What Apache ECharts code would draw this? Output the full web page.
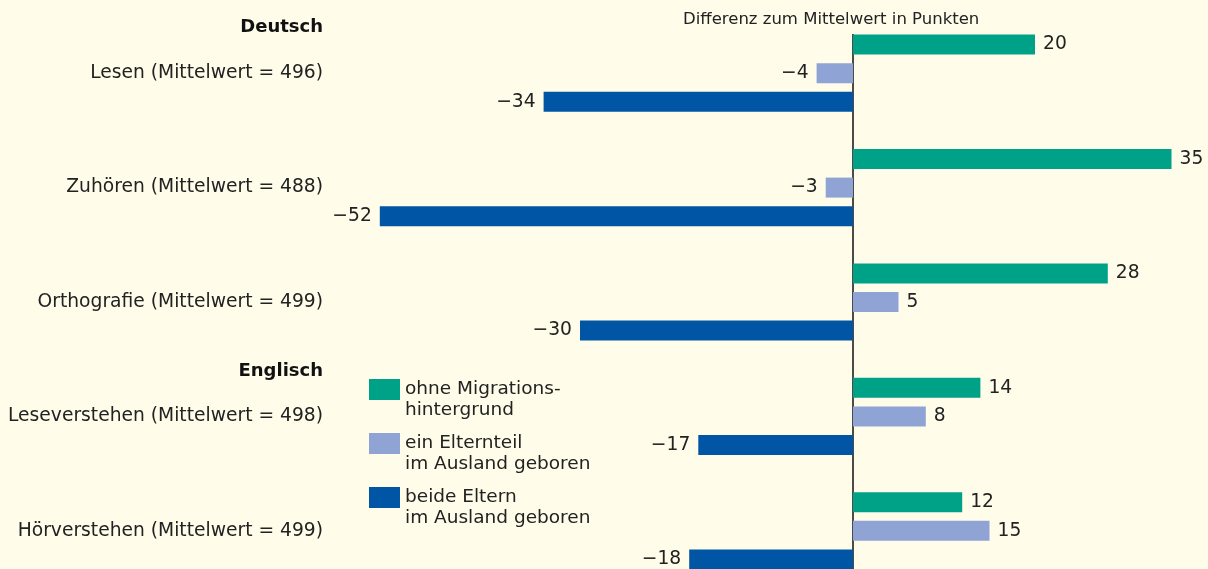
<!DOCTYPE html>
<html>
<head>
<meta charset="utf-8">
<script src="https://cdn.jsdelivr.net/npm/echarts@6/dist/echarts.min.js"></script>
<style>
  html, body { margin: 0; padding: 0; background: #fffcea; }
  #chart { width: 1208px; height: 569px; }
</style>
</head>
<body>
<div id="chart"></div>
<script>
// Kategorien (von oben nach unten)
const categories = [
    'Lesen (Mittelwert = 496)',
    'Zuhören (Mittelwert = 488)',
    'Orthografie (Mittelwert = 499)',
    'Leseverstehen (Mittelwert = 498)',
    'Hörverstehen (Mittelwert = 499)'
];
const seriesNames = [
    'ohne Migrations-\nhintergrund',
    'ein Elternteil\nim Ausland geboren',
    'beide Eltern\nim Ausland geboren'
];
// Differenz zum Mittelwert in Punkten
const ohneMigration = [20, 35, 28, 14, 12];
const einElternteil = [-4, -3, 5, 8, 15];
const beideEltern = [-34, -52, -30, -17, -18];
const colors = ['#00a287', '#8fa3d5', '#0056a4'];

const FONT = 'DejaVu Sans';
const TEXT = '#222';

function toData(values) {
    return values.map(v => ({
        value: v,
        label: {position: v < 0 ? 'left' : 'right'}
    }));
}

function fmt(p) {
    const v = p.value;
    return v < 0 ? '\u2212' + Math.abs(v) : String(v);
}

const chart = echarts.init(document.getElementById('chart'));

const series = [ohneMigration, einElternteil, beideEltern].map((vals, i) => ({
    name: seriesNames[i],
    type: 'bar',
    barWidth: 20,
    barGap: '43%',
    itemStyle: {color: colors[i]},
    label: {
        show: true,
        distance: 8,
        color: TEXT,
        fontFamily: FONT,
        fontSize: 18.7,
        formatter: fmt
    },
    data: toData(vals)
}));

const option = {
    backgroundColor: '#fffcea',
    animation: false,
    title: [
        {
            text: 'Differenz zum Mittelwert in Punkten',
            left: 681,
            top: 8,
            padding: [2, 2, 4, 2],
            backgroundColor: '#fffcea',
            textStyle: {fontFamily: FONT, fontSize: 16.5, fontWeight: 'normal', color: TEXT, lineHeight: 20}
        },
        {
            text: 'Deutsch',
            right: 885,
            top: 17,
            padding: 0,
            textStyle: {fontFamily: FONT, fontSize: 18, fontWeight: 'bold', color: '#111', lineHeight: 20}
        },
        {
            text: 'Englisch',
            right: 885,
            top: 361,
            padding: 0,
            textStyle: {fontFamily: FONT, fontSize: 18, fontWeight: 'bold', color: '#111', lineHeight: 20}
        }
    ],
    legend: {
        orient: 'vertical',
        left: 369,
        top: 358,
        padding: 0,
        itemWidth: 31,
        itemHeight: 21,
        itemGap: -9,
        icon: 'rect',
        selectedMode: false,
        // leere erste Zeile, damit die erste Textzeile neben dem Symbol steht
        formatter: name => '\n' + name,
        textStyle: {
            fontFamily: FONT,
            fontSize: 18.5,
            color: TEXT,
            lineHeight: 21
        },
        data: seriesNames
    },
    grid: {
        left: 352.5,
        top: 16,
        width: 846.3,
        height: 572,
        outerBoundsMode: 'none'
    },
    xAxis: {
        type: 'value',
        min: -55,
        max: 38,
        axisLine: {show: false},
        axisTick: {show: false},
        axisLabel: {show: false},
        splitLine: {show: false}
    },
    yAxis: {
        type: 'category',
        inverse: true,
        data: categories,
        axisLine: {onZero: true, lineStyle: {color: '#111', width: 1.5}},
        axisTick: {show: false},
        axisLabel: {
            margin: 29.5,
            color: TEXT,
            fontFamily: FONT,
            fontSize: 18.7
        }
    },
    series: series
};

chart.setOption(option);
</script>
</body>
</html>
